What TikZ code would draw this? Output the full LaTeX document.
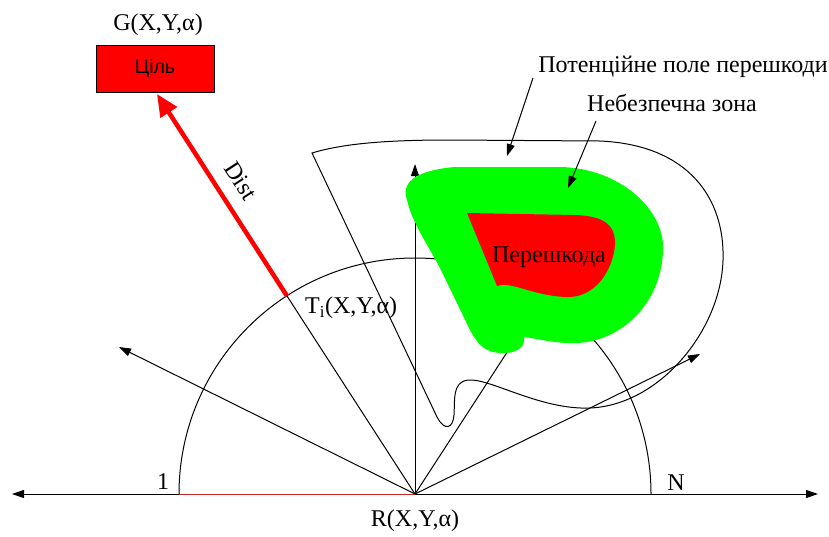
\documentclass[tikz,border=0pt]{standalone}
\usepackage{fontspec}
\setmainfont{Liberation Serif}
\newfontfamily\arialf{Liberation Sans}
\usetikzlibrary{arrows.meta}
\definecolor{axisred}{RGB}{190,40,40}
\definecolor{zonegreen}{RGB}{0,255,0}
\tikzset{
  ln/.style={line width=1pt, black},
  arr/.style={ln, -{Triangle[length=12pt,width=8pt]}},
  lbl/.style={font=\fontsize{24}{28}\selectfont, inner sep=0pt},
}
\begin{document}
\begin{tikzpicture}[x=1pt,y=-1pt]
\useasboundingbox (0,0) rectangle (829,536);
\coordinate (R) at (415,494);
\coordinate (AL) at (12,494);
\coordinate (AR) at (818,494);
\coordinate (C1) at (179,494);
\coordinate (Ti) at (287,296);
\coordinate (U1) at (119,347);
\coordinate (U3) at (415,164);
\coordinate (U4) at (515,340);
\coordinate (U5) at (700,354);
\coordinate (Gtip) at (157,94);
\coordinate (P1s) at (533,78);
\coordinate (P1t) at (507,156);
\coordinate (P2s) at (596,121);
\coordinate (P2t) at (568,188);

% potential field outline
\draw[ln] (312,153) .. controls (345,143) and (390,140) .. (450,140) -- (600,141)
  .. controls (690,145) and (725,200) .. (723,260)
  .. controls (721,330) and (660,405) .. (590,408)
  .. controls (540,410) and (490,378) .. (468,380)
  .. controls (452,382) and (455,400) .. (454,415)
  .. controls (453,428) and (445,432) .. (437,417) -- cycle;

% axis
\draw[ln, {Triangle[length=12pt,width=8pt]}-{Triangle[length=12pt,width=8pt]}] (AL) -- (AR);
\draw[line width=1pt, axisred] (C1) -- (R);
% semicircle
\draw[ln] (C1) arc[start angle=180, end angle=0, radius=236pt];
% rays
\draw[arr] (R) -- (U1);
\draw[ln] (R) -- (Ti);
\draw[arr] (R) -- (U3);
\draw[ln] (R) -- (U4);
\draw[arr] (R) -- (U5);

% dangerous zone
\fill[zonegreen] (407,200) .. controls (400,180) and (420,170) .. (455,167) -- (560,167)
  .. controls (620,168) and (665,210) .. (663,250)
  .. controls (662,300) and (625,340) .. (578,343)
  .. controls (555,344) and (535,338) .. (524,337)
  .. controls (526,348) and (515,354) .. (500,353)
  .. controls (485,352) and (478,345) .. (470,330)
  -- (440,268) .. controls (425,240) and (412,222) .. (407,200) -- cycle;
% obstacle
\fill[red] (467,213) -- (497,286) .. controls (512,281) and (530,295) .. (565,297)
  .. controls (595,299) and (613,270) .. (615,245)
  .. controls (616,222) and (600,216) .. (575,215) -- cycle;
\node[lbl] (obst) at (549,257) {Перешкода};

% labels on the axis
\node[lbl] (Rlab) at (415,521) {R(X,Y,α)};
\node[lbl] (one) at (163,482) {1};
\node[lbl] (enN) at (676,483) {N};
\node[lbl, anchor=west] (Tilab) at (305,308) {T\textsubscript{i}(X,Y,α)};

% goal
\node[lbl] (Glab) at (158,25) {G(X,Y,α)};
\node[draw=black, line width=0.8pt, fill=red, minimum width=118pt, minimum height=47pt,
  inner sep=0pt, font=\arialf\fontsize{19.5}{21}\selectfont] (G) at (155,68.5) {Ціль};
\draw[red, line width=4.5pt, -{Triangle[length=22pt,width=19pt]}] (Ti) -- (Gtip);
\node[lbl, rotate=-57.2] (dist) at (241,181) {Dist};

% annotations
\node[lbl] (tpot) at (683,67) {Потенційне поле перешкоди};
\node[lbl] (tzone) at (672,103) {Небезпечна зона};
\draw[arr] (P1s) -- (P1t);
\draw[arr] (P2s) -- (P2t);
\end{tikzpicture}
\end{document}
